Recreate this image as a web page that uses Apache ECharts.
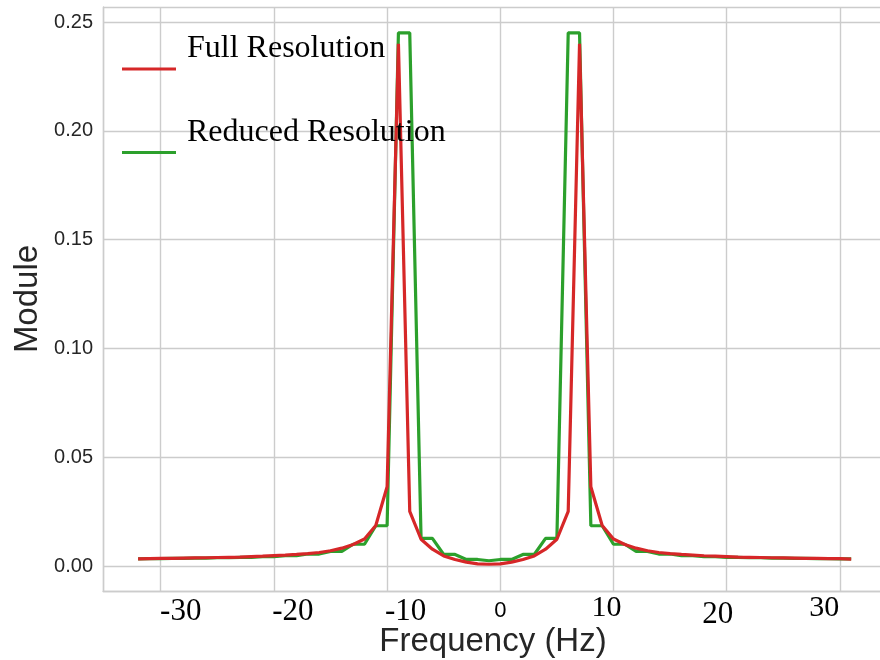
<!DOCTYPE html>
<html>
<head>
<meta charset="utf-8">
<script src="https://cdn.jsdelivr.net/npm/echarts@6/dist/echarts.min.js"></script>
<style>
  html, body { margin: 0; padding: 0; background: #ffffff; }
  #chart { width: 880px; height: 660px; }
</style>
</head>
<body>
<div id="chart"></div>
<script>
// Frequency bins (Hz)
const freq = [
  -32, -31, -30, -29, -28, -27, -26, -25, -24, -23, -22, -21, -20, -19, -18, -17,
  -16, -15, -14, -13, -12, -11, -10, -9, -8, -7, -6, -5, -4, -3, -2, -1,
  0, 1, 2, 3, 4, 5, 6, 7, 8, 9, 10, 11, 12, 13, 14, 15,
  16, 17, 18, 19, 20, 21, 22, 23, 24, 25, 26, 27, 28, 29, 30, 31
];

// Spectrum magnitude, full resolution
const fullRes = [
  0.0033, 0.0034, 0.0035, 0.0035, 0.0036, 0.0037, 0.0038, 0.0039, 0.0040, 0.0041, 0.0043, 0.0045, 0.0048, 0.0050, 0.0053, 0.0057,
  0.0062, 0.0070, 0.0082, 0.0099, 0.0124, 0.0186, 0.0364, 0.2400, 0.0251, 0.0123, 0.0077, 0.0046, 0.0030, 0.0018, 0.0010, 0.0008,
  0.0010, 0.0018, 0.0030, 0.0046, 0.0077, 0.0123, 0.0251, 0.2400, 0.0364, 0.0186, 0.0124, 0.0099, 0.0082, 0.0070, 0.0062, 0.0057,
  0.0053, 0.0050, 0.0047, 0.0045, 0.0043, 0.0041, 0.0040, 0.0039, 0.0038, 0.0037, 0.0036, 0.0035, 0.0035, 0.0034, 0.0034, 0.0032
];

// Spectrum magnitude, reduced resolution
const reducedRes = [
  0.0033, 0.0034, 0.0034, 0.0035, 0.0035, 0.0036, 0.0036, 0.0038, 0.0038, 0.0040, 0.0040, 0.0043, 0.0043, 0.0047, 0.0047, 0.0055,
  0.0055, 0.0067, 0.0067, 0.0100, 0.0100, 0.0185, 0.0185, 0.2450, 0.2450, 0.0127, 0.0127, 0.0053, 0.0053, 0.0030, 0.0030, 0.0024,
  0.0030, 0.0030, 0.0053, 0.0053, 0.0127, 0.0127, 0.2450, 0.2450, 0.0185, 0.0185, 0.0100, 0.0100, 0.0067, 0.0067, 0.0055, 0.0055,
  0.0047, 0.0047, 0.0043, 0.0043, 0.0040, 0.0040, 0.0038, 0.0038, 0.0036, 0.0036, 0.0035, 0.0035, 0.0034, 0.0034, 0.0033, 0.0033
];

// Axis tick values and their labels
const xTickValues = [-30, -20, -10, 0, 10, 20, 30];
const xTickLabels = ['-30', '-20', '-10', '0', '10', '20', '30'];
const yTickValues = [0, 0.05, 0.10, 0.15, 0.20, 0.25];
const yTickLabels = ['0.00', '0.05', '0.10', '0.15', '0.20', '0.25'];

const seriesNames = ['Full Resolution', 'Reduced Resolution'];

// Per-label typography for the frequency tick labels
const serif = 'Liberation Serif, Times New Roman, serif';
const sans = 'Liberation Sans, Arial, Helvetica, sans-serif';
const xLabelLook = [
  { font: serif, size: 31, dx: 20,   top: 3 },
  { font: serif, size: 31, dx: 19,   top: 3 },
  { font: serif, size: 31, dx: 18.5, top: 3 },
  { font: sans,  size: 22, dx: 0,    top: 7 },
  { font: serif, size: 30, dx: -7,   top: 0 },
  { font: serif, size: 31, dx: -9,   top: 6 },
  { font: serif, size: 30, dx: -15.5, top: 0 }
];
const xRich = {};
xLabelLook.forEach(function (s, i) {
  xRich['t' + i] = {
    fontFamily: s.font,
    fontSize: s.size,
    color: '#000000',
    padding: [s.top, s.dx < 0 ? -2 * s.dx : 0, 0, s.dx > 0 ? 2 * s.dx : 0]
  };
});

function pairs(xs, ys) {
  return xs.map(function (x, i) { return [x, ys[i]]; });
}

const gridColor = '#cccccc';

const chart = echarts.init(document.getElementById('chart'), null, { renderer: 'canvas' });
chart.setOption({
  backgroundColor: '#ffffff',
  animation: false,
  grid: { left: 103, top: 7, width: 780, height: 584, containLabel: false, outerBoundsMode: 'none' },
  legend: {
    data: seriesNames,
    orient: 'vertical',
    left: 117,
    top: 28,
    padding: 5,
    icon: 'rect',
    itemWidth: 54,
    itemHeight: 3,
    itemGap: 46,
    selectedMode: false,
    formatter: function (name) { return '{a|' + name + '}'; },
    textStyle: {
      rich: {
        a: { fontFamily: serif, fontSize: 32, color: '#000000', padding: [0, 0, 40, 6] }
      }
    }
  },
  xAxis: {
    type: 'value',
    min: -35.1,
    max: 33.81,
    splitNumber: 6,
    axisLine: { show: true, onZero: false, lineStyle: { color: gridColor, width: 1.4 } },
    axisTick: { show: false },
    splitLine: { show: true, lineStyle: { color: gridColor, width: 1.4 } },
    axisLabel: {
      margin: 2,
      showMinLabel: false,
      showMaxLabel: false,
      formatter: function (v) {
        const i = xTickValues.findIndex(function (t) { return Math.abs(t - v) < 1e-6; });
        return i < 0 ? '' : '{t' + i + '|' + xTickLabels[i] + '}';
      },
      rich: xRich
    },
    name: 'Frequency (Hz)',
    nameLocation: 'middle',
    nameGap: 34,
    nameMoveOverlap: false,
    nameTextStyle: { fontFamily: sans, fontSize: 33, color: '#262626' }
  },
  yAxis: {
    type: 'value',
    min: -0.01149,
    max: 0.25690,
    splitNumber: 5,
    axisLine: { show: true, onZero: false, lineStyle: { color: gridColor, width: 1.4 } },
    axisTick: { show: false },
    splitLine: { show: true, lineStyle: { color: gridColor, width: 1.4 } },
    axisLabel: {
      margin: 10,
      showMinLabel: false,
      showMaxLabel: false,
      fontFamily: sans,
      fontSize: 20,
      color: '#262626',
      formatter: function (v) {
        const i = yTickValues.findIndex(function (t) { return Math.abs(t - v) < 1e-9; });
        return i < 0 ? '' : yTickLabels[i];
      }
    },
    name: 'Module',
    nameLocation: 'middle',
    nameGap: 59,
    nameMoveOverlap: false,
    nameTextStyle: { fontFamily: sans, fontSize: 33, color: '#262626' }
  },
  series: [
    {
      name: seriesNames[1],
      type: 'line',
      data: pairs(freq, reducedRes),
      showSymbol: false,
      symbol: 'none',
      lineStyle: { color: '#2ca02c', width: 3.2 },
      itemStyle: { color: '#2ca02c' },
      z: 2
    },
    {
      name: seriesNames[0],
      type: 'line',
      data: pairs(freq, fullRes),
      showSymbol: false,
      symbol: 'none',
      lineStyle: { color: '#d62728', width: 3.2 },
      itemStyle: { color: '#d62728' },
      z: 3
    }
  ]
});
</script>
</body>
</html>
